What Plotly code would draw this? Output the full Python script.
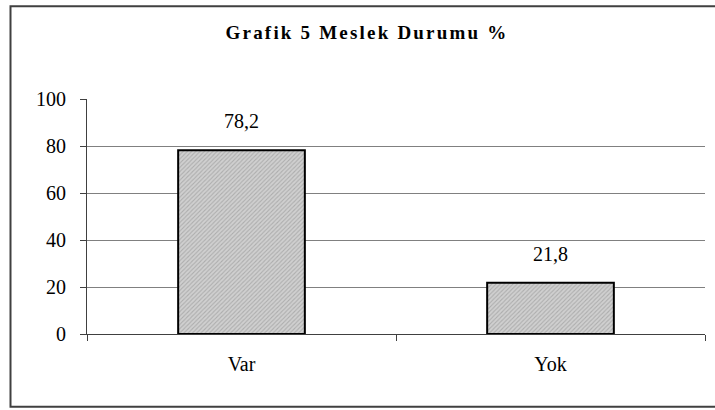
import plotly.graph_objects as go

categories = ["Var", "Yok"]
values = [78.2, 21.8]
y_ticks = [0, 20, 40, 60, 80, 100]
grid_ticks = [20, 40, 60, 80]
title_text = "Grafik 5 Meslek Durumu %"

SERIF = "Liberation Serif"

fig = go.Figure()
fig.add_trace(go.Bar(
    x=categories, y=values, width=0.41,
    marker=dict(
        color="#c8c8c8",
        line=dict(color="#000000", width=2),
        pattern=dict(shape="/", size=3, solidity=0.35,
                     fgcolor="#8a8a8a", bgcolor="#d0d0d0"),
    ),
    hoverinfo="skip",
))
# invisible trace carrying the grid axis
fig.add_trace(go.Scatter(x=categories, y=values, yaxis="y2",
                         mode="markers", marker=dict(opacity=0),
                         hoverinfo="skip", showlegend=False))

for c, v in zip(categories, values):
    fig.add_annotation(x=c, y=v, text=f"{v:.1f}".replace(".", ","),
                       showarrow=False, yanchor="bottom", yshift=16,
                       font=dict(family=SERIF, size=20, color="#000"))

fig.update_layout(
    width=715, height=410,
    margin=dict(l=87, r=10, t=98.5, b=76),
    paper_bgcolor="white", plot_bgcolor="white",
    showlegend=False,
    title=dict(text=f'<span style="letter-spacing:2.2px">{title_text}</span>',
               x=367/715, xanchor="center",
               y=1-32/410, yanchor="middle",
               font=dict(family=SERIF, size=19, color="#000", weight="bold")),
    xaxis=dict(
        type="category", range=[-0.5, 1.5],
        showline=True, linecolor="#404040", linewidth=1,
        ticks="outside", tickson="boundaries", ticklen=6, tickcolor="#404040",
        showgrid=False, zeroline=False,
        tickfont=dict(family=SERIF, size=20, color="#000"),
        ticklabelstandoff=12,
    ),
    yaxis=dict(
        range=[0, 100], tickvals=y_ticks,
        showline=True, linecolor="#404040", linewidth=1,
        ticks="outside", ticklen=6, tickcolor="#404040",
        showgrid=False, zeroline=False,
        tickfont=dict(family=SERIF, size=20, color="#000"),
        ticklabelstandoff=10,
    ),
    yaxis2=dict(
        range=[0, 100], tickvals=grid_ticks, overlaying="y",
        showgrid=True, gridcolor="#808080", gridwidth=1,
        showticklabels=False, showline=False, zeroline=False,
        layer="below traces",
    ),
    shapes=[dict(type="rect", xref="paper", yref="paper",
                 x0=(10.5-87)/618, x1=(722-87)/618,
                 y0=(334-407)/235.5, y1=(334-5.5)/235.5,
                 line=dict(color="#404040", width=2),
                 fillcolor="rgba(0,0,0,0)", layer="below")],
)

fig.write_html("out.html",
               config={"displayModeBar": False},
               post_script="document.body.style.margin='0';document.body.style.overflow='hidden';")
